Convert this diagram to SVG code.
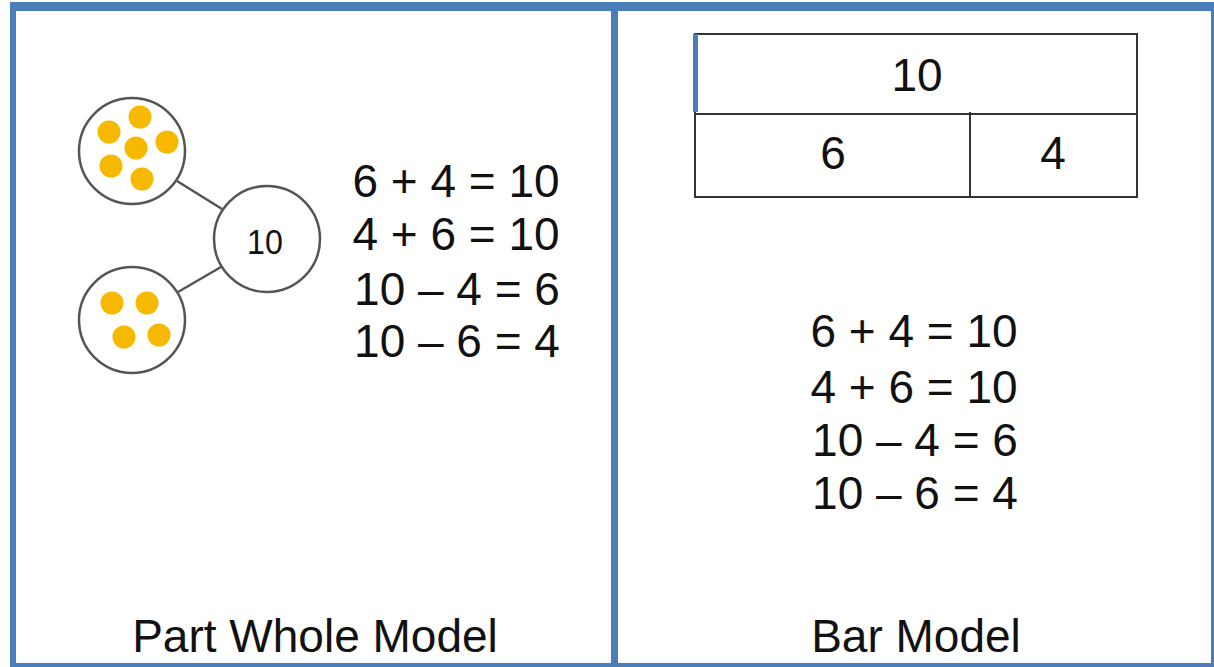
<svg xmlns="http://www.w3.org/2000/svg" width="1214" height="667" viewBox="0 0 1214 667">
<style>
.frame{fill:#4a7ebb}
.circ{fill:#fff;stroke:#555;stroke-width:2.5}
.dot{fill:#f7b900}
.link{stroke:#555;stroke-width:2.5}
.bar{fill:none;stroke:#333;stroke-width:2}
.t{font-family:"Liberation Sans",Arial,sans-serif;fill:#111;text-anchor:middle}
.eq{font-size:46px}
</style>
<rect width="1214" height="667" fill="#fff"/>
<g id="frame">
<rect class="frame" x="10" y="2" width="1204" height="9"/>
<rect class="frame" x="10" y="2" width="6" height="665"/>
<rect class="frame" x="1211" y="2" width="3" height="665"/>
<rect class="frame" x="10" y="663" width="1204" height="4"/>
<rect class="frame" x="611" y="2" width="7" height="665"/>
</g>
<g id="connectors">
<line class="link" x1="177" y1="181" x2="222" y2="209"/>
<line class="link" x1="178" y1="292" x2="221" y2="267"/>
</g>
<g id="part-top">
<circle class="circ" cx="132" cy="151" r="53"/>
<circle class="dot" cx="140" cy="117" r="11.5"/>
<circle class="dot" cx="109" cy="132" r="11.5"/>
<circle class="dot" cx="167" cy="142" r="11.5"/>
<circle class="dot" cx="136" cy="148" r="11.5"/>
<circle class="dot" cx="111" cy="166" r="11.5"/>
<circle class="dot" cx="142" cy="179" r="11.5"/>
</g>
<g id="part-bottom">
<circle class="circ" cx="132" cy="320" r="53"/>
<circle class="dot" cx="112" cy="303" r="11.5"/>
<circle class="dot" cx="147" cy="303" r="11.5"/>
<circle class="dot" cx="124" cy="337" r="11.5"/>
<circle class="dot" cx="159" cy="335" r="11.5"/>
</g>
<g id="whole">
<circle class="circ" cx="267" cy="239" r="53"/>
<text class="t" x="265" y="254" font-size="35" transform="translate(265 254) scale(0.92 1) translate(-265 -254)">10</text>
</g>
<g id="eq-left" class="t eq">
<text x="456" y="197">6 + 4 = 10</text>
<text x="456" y="250">4 + 6 = 10</text>
<text x="457" y="305">10 – 4 = 6</text>
<text x="457" y="357">10 – 6 = 4</text>
</g>
<g id="bar-model">
<rect class="bar" x="695" y="34" width="442" height="80"/>
<rect class="bar" x="695" y="114" width="442" height="83"/>
<line class="bar" x1="970" y1="112" x2="970" y2="197"/>
<rect x="693" y="34" width="5" height="78" fill="#4a7ebb"/>
<text class="t eq" x="917" y="91">10</text>
<text class="t eq" x="833" y="169">6</text>
<text class="t eq" x="1053" y="169">4</text>
</g>
<g id="eq-right" class="t eq">
<text x="914" y="347">6 + 4 = 10</text>
<text x="914" y="403">4 + 6 = 10</text>
<text x="915" y="456">10 – 4 = 6</text>
<text x="915" y="509">10 – 6 = 4</text>
</g>
<g id="labels" class="t eq">
<text x="315" y="652">Part Whole Model</text>
<text x="916" y="652">Bar Model</text>
</g>
</svg>
